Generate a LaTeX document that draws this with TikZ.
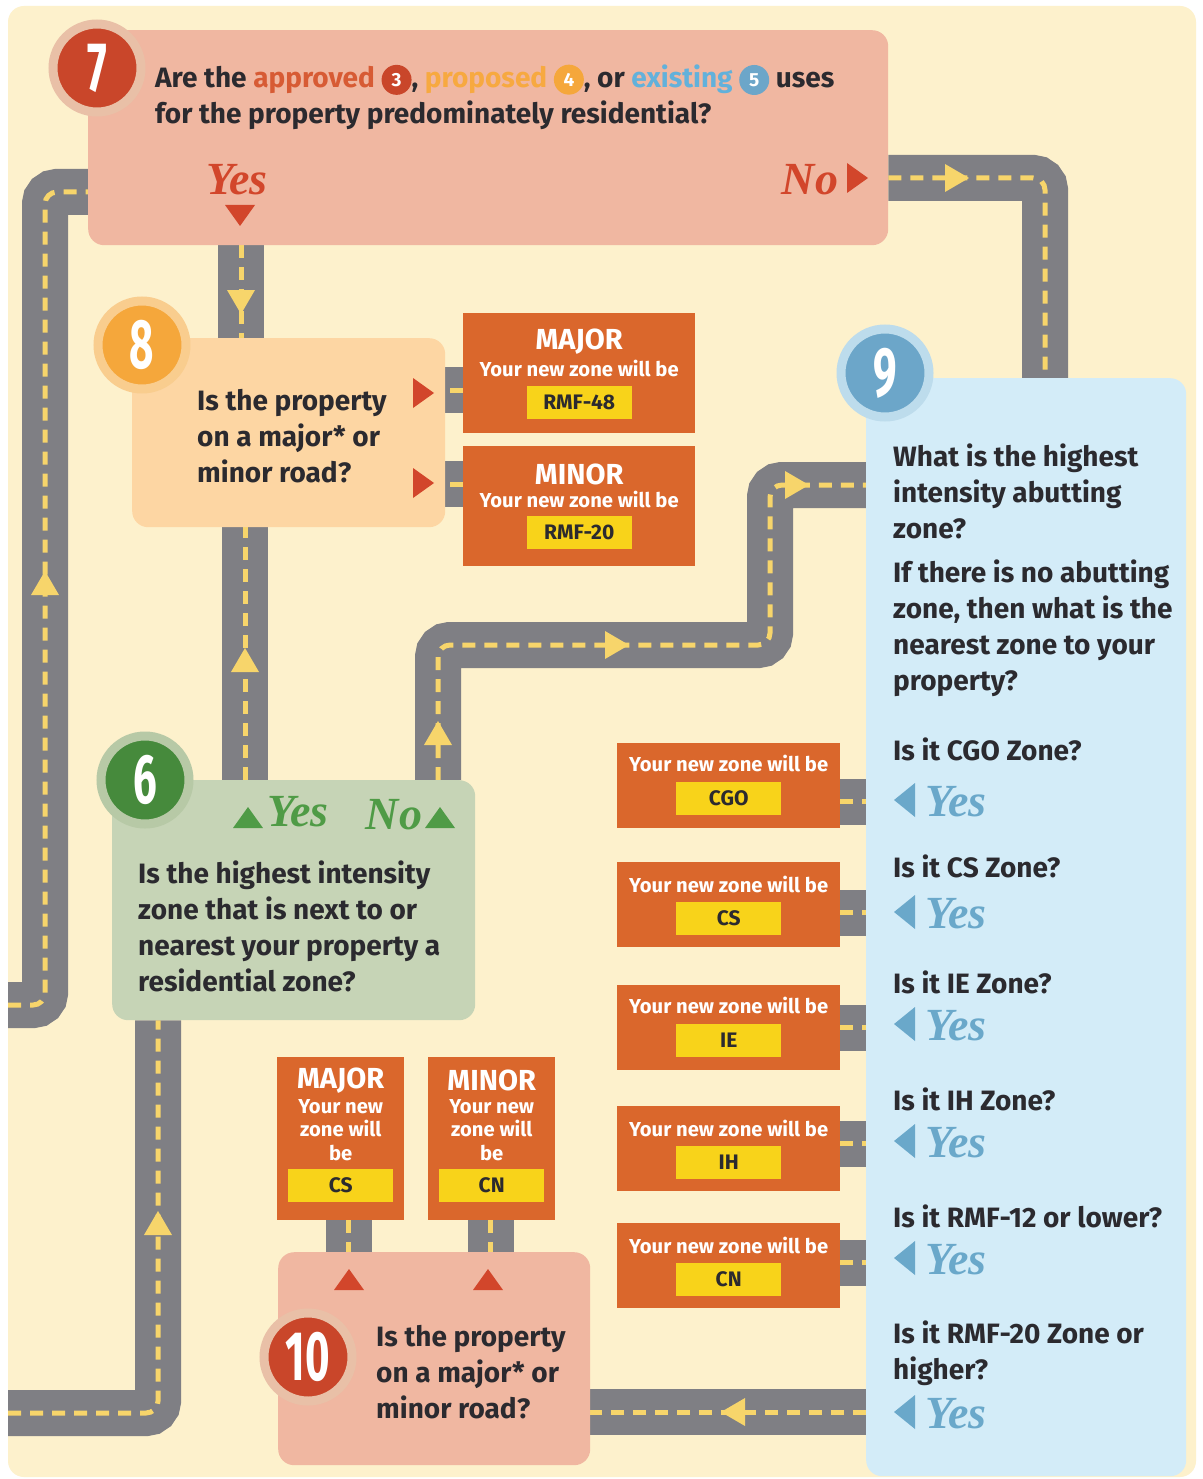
\documentclass[tikz,border=0pt]{standalone}
\usepackage{fontspec}
\setmainfont{Fira Sans}
\newfontfamily\yesfont{Liberation Serif}
\usepackage{graphicx}
\usetikzlibrary{positioning,backgrounds}

\definecolor{cream}{HTML}{FDF1CC}
\definecolor{roadgray}{HTML}{7F7F84}
\definecolor{lane}{HTML}{F7D56B}
\definecolor{salmon}{HTML}{F0B7A1}
\definecolor{peach}{HTML}{FDD6A3}
\definecolor{skyblue}{HTML}{D3ECF8}
\definecolor{sage}{HTML}{C6D4B6}
\definecolor{signorange}{HTML}{DA672C}
\definecolor{zoneyellow}{HTML}{F8D31A}
\definecolor{ink}{HTML}{2B2A2F}
\definecolor{redcirc}{HTML}{C9462A}
\definecolor{redhalo}{HTML}{E9C0A7}
\definecolor{orangecirc}{HTML}{F5A73B}
\definecolor{orangehalo}{HTML}{F9CD8E}
\definecolor{bluecirc}{HTML}{6CA6C9}
\definecolor{bluehalo}{HTML}{BDDCEC}
\definecolor{greencirc}{HTML}{468A3C}
\definecolor{greenhalo}{HTML}{B7C9A6}
\definecolor{redans}{HTML}{D2462B}
\definecolor{greenans}{HTML}{4F9B46}
\definecolor{blueans}{HTML}{6AA8CA}
\definecolor{approved}{HTML}{D75B34}
\definecolor{proposed}{HTML}{F7A940}
\definecolor{existing}{HTML}{62B1DB}

\pgfdeclarelayer{roads}
\pgfsetlayers{background,roads,main}

\newcommand\numtxt[1]{\scalebox{0.6}[1]{\bfseries\fontsize{70}{70}\selectfont #1}}
\newcommand\circnum[2]{\tikz[baseline={([yshift=-1pt]cn.base)}]\node[circle, fill=#1, text=white,
  inner sep=0pt, minimum size=30pt, font=\bfseries\fontsize{19}{19}\selectfont] (cn) {#2};}

\begin{document}
\begin{tikzpicture}[x=1pt, y=-1pt,
    every node/.style={inner sep=0pt},
    box/.style={rounded corners=16pt, anchor=north west},
    sign/.style={fill=signorange, anchor=north west},
    qtext/.style={anchor=west, align=left, text=ink, font=\bfseries\fontsize{28}{36}\selectfont},
    signtext/.style={text=white, align=center, font=\bfseries\fontsize{20.2}{23.5}\selectfont},
    signhead/.style={text=white, font=\bfseries\fontsize{29}{30}\selectfont},
    zone/.style={fill=zoneyellow, minimum width=105pt, minimum height=33pt, text=ink,
                 font=\bfseries\fontsize{21}{21}\selectfont},
    numdisc/.style={circle, minimum size=88pt, line width=9pt, text=white},
    answer/.style={font=\yesfont\bfseries\itshape\fontsize{46}{46}\selectfont},
    road/.style={draw=lane, line width=5pt, dash pattern=on 13pt off 9pt, rounded corners=12pt,
                 preaction={draw=roadgray, line width=46pt, solid}},
    roadtri/.pic={\fill (-10,-14) -- (14,0) -- (-10,14) -- cycle;},
    signtri/.pic={\fill (-9,-15) -- (12,0) -- (-9,15) -- cycle;},
    yestri/.pic={\fill (-9,-17) -- (12,0) -- (-9,17) -- cycle;}
  ]
    % Fondo
    \begin{pgfonlayer}{background}
      \fill[white] (0,0) rectangle (1202,1479);
      \fill[cream, rounded corners=16pt] (8,6) rectangle (1196,1477);
    \end{pgfonlayer}
    \useasboundingbox (0,0) rectangle (1202,1479);

    % Question boxes
    \node[box, fill=salmon, minimum width=800pt, minimum height=215pt] (q7) at (88,30) {};
    \node[box, fill=peach, minimum width=313pt, minimum height=189pt] (q8) at (132,338) {};
    \node[box, fill=skyblue, minimum width=320pt, minimum height=1098pt] (q9) at (866,378) {};
    \node[box, fill=sage, minimum width=363pt, minimum height=240pt] (q6) at (112,780) {};
    \node[box, fill=salmon, minimum width=312pt, minimum height=213pt] (q10) at (278,1252) {};

    % Result signs
    \node[sign, minimum width=232pt, minimum height=120pt] (maj8) at (463,313) {};
    \node[sign, minimum width=232pt, minimum height=120pt] (min8) at (463,446) {};
    \node[sign, minimum width=223pt, minimum height=85pt] (rcgo) at (617,743) {};
    \node[sign, minimum width=223pt, minimum height=85pt] (rcs) at (617,862) {};
    \node[sign, minimum width=223pt, minimum height=85pt] (rie) at (617,985) {};
    \node[sign, minimum width=223pt, minimum height=85pt] (rih) at (617,1106) {};
    \node[sign, minimum width=223pt, minimum height=85pt] (rcn) at (617,1223) {};
    \node[sign, minimum width=127pt, minimum height=163pt] (maj10) at (277,1057) {};
    \node[sign, minimum width=127pt, minimum height=163pt] (min10) at (428,1057) {};

    % Step 7
    \node[qtext] (t7) at (155,97) {Are the \textcolor{approved}{approved} \circnum{redcirc}{3}, \textcolor{proposed}{proposed} \circnum{orangecirc}{4}, or \textcolor{existing}{existing} \circnum{bluecirc}{5} uses\\for the property predominately residential?};
    \node[answer, text=redans] (yes7) at (237,180) {Yes};
    \pic[color=redans, rotate=270] at (240,214) {signtri};
    \node[answer, text=redans] (no7) at (810,180) {No};
    \pic[color=redans] at (856,178) {signtri};

    % Step 8
    \node[qtext] (t8) at (197,436) {Is the property\\on a major* or\\minor road?};
    \pic[color=redans] at (422,393) {signtri};
    \pic[color=redans] at (422,483) {signtri};
    \node[signhead] at ([yshift=-29pt]maj8.north) {MAJOR};
    \node[signtext] at ([yshift=-55pt]maj8.north) {Your new zone will be};
    \node[zone] at ([yshift=-89pt]maj8.north) {RMF-48};
    \node[signhead] at ([yshift=-28pt]min8.north) {MINOR};
    \node[signtext] at ([yshift=-53pt]min8.north) {Your new zone will be};
    \node[zone] at ([yshift=-86pt]min8.north) {RMF-20};

    % Step 9
    \node[qtext] (t9a) at (893,491) {What is the highest\\intensity abutting\\zone?};
    \node[qtext] (t9b) at (893,628) {If there is no abutting\\zone, then what is the\\nearest zone to your\\property?};
    \node[qtext] (cgo) at (893,749) {Is it CGO Zone?};
    \node[qtext] (cs) at (893,866) {Is it CS Zone?};
    \node[qtext] (ie) at (893,982) {Is it IE Zone?};
    \node[qtext] (ih) at (893,1099) {Is it IH Zone?};
    \node[qtext] (rmf12) at (893,1216) {Is it RMF-12 or lower?};
    \node[qtext] (rmf20) at (893,1353) {Is it RMF-20 Zone or\\higher?};
    \pic[color=blueans, rotate=180] at (906,800) {yestri};
    \node[answer, text=blueans, anchor=west] (ycgo) at (925,802) {Yes};
    \pic[color=blueans, rotate=180] at (906,912) {yestri};
    \node[answer, text=blueans, anchor=west] (ycs) at (925,914) {Yes};
    \pic[color=blueans, rotate=180] at (906,1024) {yestri};
    \node[answer, text=blueans, anchor=west] (yie) at (925,1026) {Yes};
    \pic[color=blueans, rotate=180] at (906,1141) {yestri};
    \node[answer, text=blueans, anchor=west] (yih) at (925,1143) {Yes};
    \pic[color=blueans, rotate=180] at (906,1258) {yestri};
    \node[answer, text=blueans, anchor=west] (y12) at (925,1260) {Yes};
    \pic[color=blueans, rotate=180] at (906,1412) {yestri};
    \node[answer, text=blueans, anchor=west] (y20) at (925,1414) {Yes};

    \node[signtext] at ([yshift=-20pt]rcgo.north) {Your new zone will be};
    \node[zone] at ([yshift=-55pt]rcgo.north) {CGO};
    \node[signtext] at ([yshift=-22pt]rcs.north) {Your new zone will be};
    \node[zone] at ([yshift=-56pt]rcs.north) {CS};
    \node[signtext] at ([yshift=-20pt]rie.north) {Your new zone will be};
    \node[zone] at ([yshift=-55pt]rie.north) {IE};
    \node[signtext] at ([yshift=-22pt]rih.north) {Your new zone will be};
    \node[zone] at ([yshift=-56pt]rih.north) {IH};
    \node[signtext] at ([yshift=-22pt]rcn.north) {Your new zone will be};
    \node[zone] at ([yshift=-56pt]rcn.north) {CN};

    % Step 6
    \node[qtext] (t6) at (138,926) {Is the highest intensity\\zone that is next to or\\nearest your property a\\residential zone?};
    \pic[color=greenans, rotate=90] at (248,819) {signtri};
    \node[answer, text=greenans] (yes6) at (298,812) {Yes};
    \node[answer, text=greenans] (no6) at (394,815) {No};
    \pic[color=greenans, rotate=90] at (440,819) {signtri};

    % Step 10
    \node[qtext] (t10) at (376,1372) {Is the property\\on a major* or\\minor road?};
    \pic[color=redans, rotate=90] at (349,1281) {signtri};
    \pic[color=redans, rotate=90] at (488,1281) {signtri};
    \node[signhead] at ([yshift=-24pt]maj10.north) {MAJOR};
    \node[signtext] at ([yshift=-73pt]maj10.north) {Your new\\zone will\\be};
    \node[zone] at ([yshift=-128pt]maj10.north) {CS};
    \node[signhead] at ([yshift=-23pt]min10.north) {MINOR};
    \node[signtext] at ([yshift=-73pt]min10.north) {Your new\\zone will\\be};
    \node[zone] at ([yshift=-128pt]min10.north) {CN};

    % Step numbers
    \node[numdisc, fill=redcirc, draw=redhalo] (n7) at (97,68) {\numtxt{7}};
    \node[numdisc, fill=orangecirc, draw=orangehalo] (n8) at (142,345) {\numtxt{8}};
    \node[numdisc, fill=bluecirc, draw=bluehalo] (n9) at (885,373) {\numtxt{9}};
    \node[numdisc, fill=greencirc, draw=greenhalo] (n6) at (145,780) {\numtxt{6}};
    \node[numdisc, fill=redcirc, draw=redhalo] (n10) at (308,1357) {\numtxt{10}};

    % Roads
    \coordinate (leftin) at (8,1005);
    \coordinate (bottomin) at (8,1413);
    \begin{pgfonlayer}{roads}
      \draw[road] ([xshift=153pt]q7.south west) -- ([xshift=109pt]q8.north west);
      \draw[road] ([yshift=-148pt]q7.north east) -| ([xshift=179pt]q9.north west);
      \draw[road] (leftin) -| (45,192) -- ([yshift=-162pt]q7.north west);
      \draw[road] ([xshift=133pt]q6.north west) -- ([xshift=113pt]q8.south west);
      \draw[road] ([xshift=326pt]q6.north west) |- (770,645) |- ([yshift=-107pt]q9.north west);
      \draw[road] (bottomin) -| ([xshift=46pt]q6.south west);
      \draw[road] ([yshift=-1034pt]q9.north west) -- ([yshift=-160pt]q10.north east);
      \draw[road] ([yshift=-17pt]maj8.west) -- ([yshift=-17pt]maj8.west -| q8.east);
      \draw[road] ([yshift=22pt]min8.west) -- ([yshift=22pt]min8.west -| q8.east);
      \draw[road] ([yshift=-16pt]rcgo.east) -- ([yshift=-16pt]rcgo.east -| q9.west);
      \draw[road] ([yshift=-8pt]rcs.east) -- ([yshift=-8pt]rcs.east -| q9.west);
      \draw[road] (rie.east) -- (rie.east -| q9.west);
      \draw[road] ([yshift=5pt]rih.east) -- ([yshift=5pt]rih.east -| q9.west);
      \draw[road] ([yshift=3pt]rcn.east) -- ([yshift=3pt]rcn.east -| q9.west);
      \draw[road] ([xshift=8pt]maj10.south) -- ([xshift=8pt]maj10.south |- q10.north);
      \draw[road] ([xshift=-1pt]min10.south) -- ([xshift=-1pt]min10.south |- q10.north);
      % direction marks
      \pic[color=lane, rotate=270] at (241,300) {roadtri};
      \pic[color=lane] at (955,178) {roadtri};
      \pic[color=lane, rotate=90] at (45,585) {roadtri};
      \pic[color=lane, rotate=90] at (245,662) {roadtri};
      \pic[color=lane, rotate=90] at (438,735) {roadtri};
      \pic[color=lane] at (615,645) {roadtri};
      \pic[color=lane] at (795,485) {roadtri};
      \pic[color=lane, rotate=90] at (158,1225) {roadtri};
      \pic[color=lane, rotate=180] at (735,1412) {roadtri};
    \end{pgfonlayer}
\end{tikzpicture}
\end{document}
